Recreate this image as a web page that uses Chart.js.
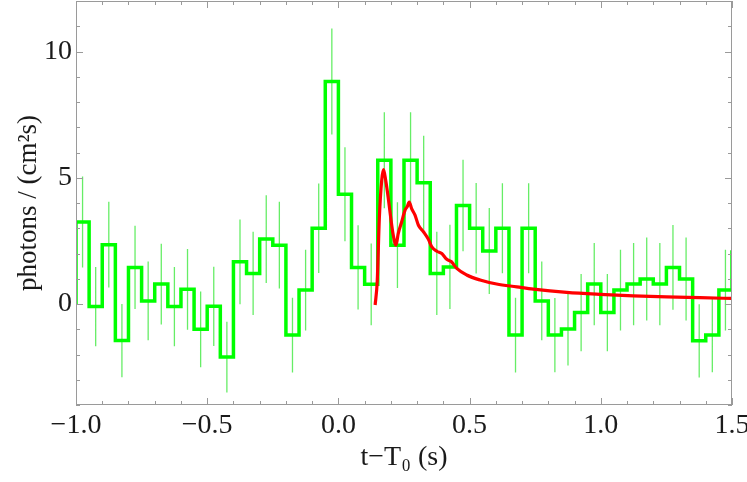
<!DOCTYPE html>
<html>
<head>
<meta charset="utf-8">
<script src="https://cdn.jsdelivr.net/npm/chart.js@4"></script>
<style>
html,body{margin:0;padding:0;background:#ffffff;}
#wrap{width:747px;height:482px;position:relative;}
</style>
</head>
<body>
<div id="wrap"><canvas id="c"></canvas></div>
<script>
// ---- data ----
const binStarts = [-1.00,-0.95,-0.90,-0.85,-0.80,-0.75,-0.70,-0.65,-0.60,-0.55,
                   -0.50,-0.45,-0.40,-0.35,-0.30,-0.25,-0.20,-0.15,-0.10,-0.05,
                    0.00, 0.05, 0.10, 0.15, 0.20, 0.25, 0.30, 0.35, 0.40, 0.45,
                    0.50, 0.55, 0.60, 0.65, 0.70, 0.75, 0.80, 0.85, 0.90, 0.95,
                    1.00, 1.05, 1.10, 1.15, 1.20, 1.25, 1.30, 1.35, 1.40, 1.45, 1.50];
const binWidth = 0.05;
const rates = [ 3.25,-0.10, 2.35,-1.45, 1.45, 0.12, 0.79,-0.10, 0.58,-1.00,
               -0.09,-2.10, 1.67, 1.21, 2.57, 2.33,-1.23, 0.55, 3.00, 8.81,
                4.35, 1.45, 0.78, 5.69, 2.33, 5.69, 4.80, 1.21, 1.47, 3.90,
                3.00, 2.10, 3.00,-1.23, 3.00, 0.12,-1.23,-0.99,-0.34, 0.79,
               -0.34, 0.55, 0.79, 0.99, 0.79, 1.45, 0.99,-1.46,-1.23, 0.55, 2.13];
const rateErrors = [1.80,1.57,1.70,1.45,1.65,1.56,1.60,1.57,1.60,1.50,
                    1.57,1.40,1.68,1.65,1.74,1.72,1.48,1.60,1.77,2.10,
                    1.86,1.67,1.62,1.90,1.70,1.90,1.86,1.65,1.67,1.81,
                    1.79,1.70,1.78,1.48,1.78,1.56,1.47,1.45,1.53,1.63,
                    1.53,1.60,1.63,1.64,1.63,1.68,1.64,1.45,1.47,1.60,1.70];
const modelTime = [0.140,0.148,0.156,0.165,0.172,0.181,0.190,0.199,0.209,0.2195,
                   0.228,0.241,0.254,0.262,0.270,0.279,0.292,0.305,0.324,0.343,
                   0.356,0.375,0.394,0.413,0.430,0.451,0.489,0.540,0.603,0.680,
                   0.743,0.870,0.997,1.124,1.251,1.378,1.500];
const modelRate = [-0.04,0.90,3.40,4.90,5.32,4.85,4.20,3.45,2.73,2.33,
                   2.79,3.25,3.72,3.85,4.04,3.78,3.52,3.12,2.86,2.56,
                   2.26,2.09,2.00,1.77,1.68,1.41,1.15,0.95,0.79,0.68,
                   0.59,0.46,0.38,0.32,0.28,0.25,0.22];
const xTickValues = [-1.0,-0.5,0.0,0.5,1.0,1.5];
const yTickValues = [0,5,10];
const xTitle = 't\u2212T\u2080 (s)';
const yTitle = 'photons / (cm\u00B2s)';

// ---- build library data ----
const histPoints = [{x: binStarts[0], y: 0}].concat(binStarts.map((b,i)=>({x:b, y:rates[i]})));
const errPoints = [];
binStarts.forEach((b,i)=>{
  const c = b + binWidth/2;
  errPoints.push({x:c, y:rates[i]-rateErrors[i]});
  errPoints.push({x:c, y:rates[i]+rateErrors[i]});
  errPoints.push({x:c, y:null});
});
const modelPoints = modelTime.map((t,i)=>({x:t, y:modelRate[i]}));

const FONT = "'Liberation Serif','Times New Roman',serif";
const frameColor = '#9a9a9a';

const frameTicks = {
  id:'frameTicks',
  afterDatasetsDraw(chart){
    const {ctx, chartArea:a, scales:{x, y}} = chart;
    ctx.save();
    ctx.strokeStyle = frameColor;
    ctx.lineWidth = 1;
    ctx.strokeRect(a.left+0.5, a.top+0.5, a.right-a.left-1, a.bottom-a.top-1);
    ctx.beginPath();
    for (let k=-10; k<=15; k++){
      const px = Math.round(x.getPixelForValue(k/10))+0.5;
      const len = (k%5===0) ? 7 : 4;
      ctx.moveTo(px, a.bottom); ctx.lineTo(px, a.bottom-len);
      ctx.moveTo(px, a.top); ctx.lineTo(px, a.top+len);
    }
    for (let k=-4; k<=12; k++){
      const py = Math.round(y.getPixelForValue(k))+0.5;
      const len = (k%5===0) ? 7 : 4;
      ctx.moveTo(a.left, py); ctx.lineTo(a.left+len, py);
      ctx.moveTo(a.right, py); ctx.lineTo(a.right-len, py);
    }
    ctx.stroke();
    ctx.restore();
  }
};

new Chart(document.getElementById('c'), {
  type:'line',
  data:{datasets:[
    {label:'model', data:modelPoints, borderColor:'#ff0000', borderWidth:3.2,
     pointRadius:0, cubicInterpolationMode:'monotone', fill:false, order:0},
    {label:'rate', data:histPoints, stepped:'before', borderColor:'#00ff00', borderWidth:3.5,
     pointRadius:0, fill:false, order:1},
    {label:'error', data:errPoints, borderColor:'rgba(0,225,0,0.6)', borderWidth:1.3,
     pointRadius:0, spanGaps:false, fill:false, order:2}
  ]},
  options:{
    responsive:true, maintainAspectRatio:false, animation:false,
    layout:{padding:{top:1,right:15,left:0,bottom:0}},
    plugins:{legend:{display:false}, tooltip:{enabled:false}},
    scales:{
      x:{
        type:'linear', min:-1, max:1.5,
        afterBuildTicks(s){ s.ticks = xTickValues.map(v=>({value:v})); },
        afterFit(s){ s.height = 77; s.paddingLeft = 0; s.paddingRight = 0; },
        grid:{display:false, drawTicks:false},
        border:{display:false},
        ticks:{padding:4, color:'#1a1a1a', maxRotation:0, autoSkip:false,
               font:{family:FONT, size:28, lineHeight:1.2},
               callback:(v)=>Number(v).toFixed(1).replace('-', '\u2212')},
        title:{display:true, text:xTitle, color:'#1a1a1a',
               font:{family:FONT, size:28, lineHeight:1.2}, padding:{top:0,bottom:8}}
      },
      y:{
        type:'linear', min:-4, max:12,
        afterBuildTicks(s){ s.ticks = yTickValues.map(v=>({value:v})); },
        afterFit(s){ s.width = 76; s.paddingTop = 0; s.paddingBottom = 0; },
        grid:{display:false, drawTicks:false},
        border:{display:false},
        ticks:{padding:4, color:'#1a1a1a', autoSkip:false,
               font:{family:FONT, size:28, lineHeight:1.2},
               callback:(v)=>String(v)},
        title:{display:true, text:yTitle, color:'#1a1a1a',
               font:{family:FONT, size:27, lineHeight:1.2}, padding:{top:13,bottom:0}}
      }
    }
  },
  plugins:[frameTicks]
});
</script>
</body>
</html>
